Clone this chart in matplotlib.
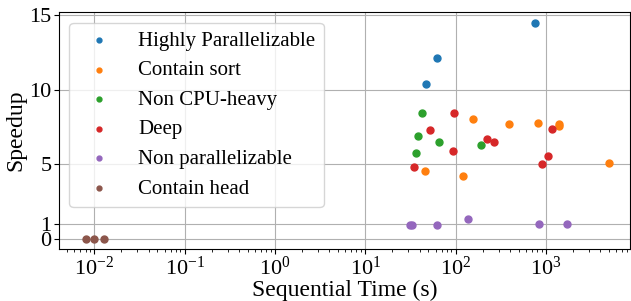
import matplotlib
matplotlib.use("Agg")
import matplotlib.pyplot as plt

plt.rcParams['font.family'] = ['Liberation Serif', 'DejaVu Serif']
plt.rcParams['mathtext.fontset'] = 'stix'

labels = ["Highly Parallelizable", "Contain sort", "Non CPU-heavy", "Deep",
          "Non parallelizable", "Contain head"]

hp_x = [767, 63, 47.5]
hp_y = [14.46, 12.13, 10.39]

sort_x = [157, 386, 822, 1387, 1396, 5012, 45.8, 120]
sort_y = [8.04, 7.66, 7.75, 7.66, 7.53, 5.05, 4.55, 4.19]

noncpu_x = [42.4, 38, 66.3, 36.1, 190]
noncpu_y = [8.42, 6.86, 6.48, 5.76, 6.25]

deep_x = [96, 52, 222, 265, 94, 34.5, 1045, 918, 1158]
deep_y = [8.40, 7.28, 6.70, 6.48, 5.89, 4.82, 5.52, 5.0, 7.33]

nonpar_x = [31, 33, 61.8, 137, 843, 1734]
nonpar_y = [0.89, 0.92, 0.93, 1.33, 0.99, 0.99]

head_x = [0.008, 0.0100, 0.0129]
head_y = [0, 0, 0]

series = [(hp_x, hp_y), (sort_x, sort_y), (noncpu_x, noncpu_y), (deep_x, deep_y),
          (nonpar_x, nonpar_y), (head_x, head_y)]

fig = plt.figure(figsize=(6.31, 3.01), dpi=100)
ax = fig.add_axes([0.0935, 0.1728, 0.9045, 0.7872])
for (xs, ys), lab in zip(series, labels):
    ax.scatter(xs, ys, s=25, label=lab, zorder=3)

ax.set_xscale('log')
ax.set_xlim(10**-2.391, 10**3.929)
ax.set_ylim(-0.7, 15.2)
ax.set_yticks([0, 1, 5, 10, 15])
ax.grid(True, color='#b0b0b0', linewidth=0.8)
ax.set_axisbelow(True)
ax.tick_params(labelsize=16, pad=2)
ax.set_xlabel("Sequential Time (s)", fontsize=17, labelpad=0)
ax.set_ylabel("Speedup", fontsize=17, labelpad=2)
ax.legend(loc='upper left', fontsize=15, markerscale=0.7, handletextpad=0.9,
          labelspacing=0.48, borderpad=0.4, bbox_to_anchor=(0.0, 0.999))
fig.savefig("out.png", dpi=100)
